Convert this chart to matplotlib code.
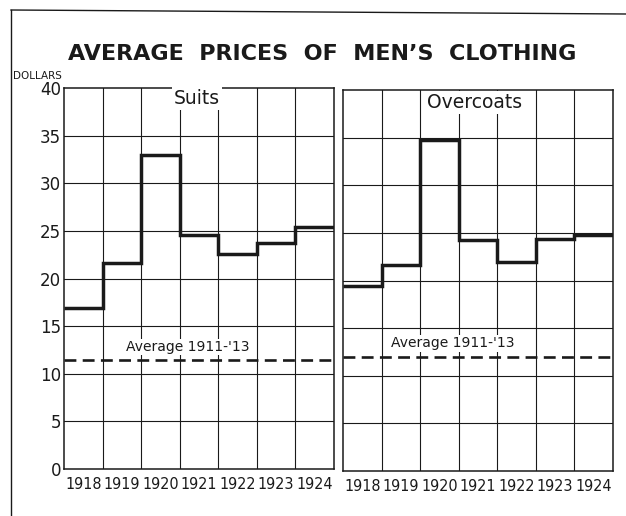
import numpy as np
import matplotlib
matplotlib.use("Agg")
import matplotlib.pyplot as plt
from matplotlib.lines import Line2D

years = ["1918", "1919", "1920", "1921", "1922", "1923", "1924"]
suits = [16.9, 21.6, 33.0, 24.6, 22.6, 23.7, 25.4]
overcoats = [19.4, 21.6, 34.8, 24.3, 21.9, 24.4, 24.8]
suits_avg = 11.4
overcoats_avg = 12.0
yticks = [0, 5, 10, 15, 20, 25, 30, 35, 40]
panel_titles = ["Suits", "Overcoats"]
avg_label = "Average 1911-'13"
title = "AVERAGE  PRICES  OF  MEN\u2019S  CLOTHING"

W, H = 626, 516
fig = plt.figure(figsize=(W / 100, H / 100), dpi=100)
fig.patch.set_facecolor("white")

ink = "#1a1a1a"

def fx(px):
    return px / W

def fy(py):
    return 1 - py / H

ax1 = fig.add_axes([fx(64), fy(469), fx(270), (469 - 88) / H])
ax2 = fig.add_axes([fx(343), fy(471), fx(270), (471 - 90) / H])

configs = [
    (ax1, suits, suits_avg, panel_titles[0], (3.45, 38.9), (3.2, 12.8), True),
    (ax2, overcoats, overcoats_avg, panel_titles[1], (3.4, 38.7), (2.85, 13.4), False),
]

for ax, vals, avg, ptitle, tpos, apos, show_y in configs:
    n = len(vals)
    ax.set_xlim(0, n)
    ax.set_ylim(0, 40)
    # grid
    for x in range(1, n):
        ax.axvline(x, color=ink, lw=0.8, zorder=1)
    for y in yticks[1:-1]:
        ax.axhline(y, color=ink, lw=0.8, zorder=1)
    for s in ax.spines.values():
        s.set_color(ink)
        s.set_linewidth(1.1)
    ax.stairs(vals, np.arange(n + 1), baseline=None, color=ink, lw=2.5, zorder=3)
    ax.axhline(avg, color=ink, lw=1.9, dashes=(4.5, 2.4), zorder=3)
    ax.text(tpos[0], tpos[1], ptitle, ha="center", va="center", fontsize=13.5,
            color=ink, zorder=4,
            bbox=dict(facecolor="white", edgecolor="none", pad=1.5))
    ax.text(apos[0], apos[1], avg_label, ha="center", va="center", fontsize=10,
            color=ink, zorder=4,
            bbox=dict(facecolor="white", edgecolor="none", pad=1.0))
    ax.set_xticks(np.arange(n) + 0.5)
    ax.set_xticklabels(years, fontsize=11.5, color=ink, family="DejaVu Sans",
                       fontstretch="condensed")
    ax.tick_params(axis="x", length=0, pad=6)
    ax.set_yticks(yticks)
    if show_y:
        ax.set_yticklabels([str(v) for v in yticks], fontsize=12, color=ink)
        ax.tick_params(axis="y", length=0, pad=2)
    else:
        ax.set_yticklabels([])
        ax.tick_params(axis="y", length=0)

fig.text(fx(322), fy(54), title, ha="center", va="center", fontsize=16,
         fontweight="bold", color=ink)
fig.text(fx(13), fy(76), "DOLLARS", ha="left", va="center", fontsize=7.5,
         color=ink)

# page frame
fig.add_artist(Line2D([fx(11), fx(11)], [fy(10), 0], color=ink, lw=1.0))
fig.add_artist(Line2D([fx(11), 1], [fy(10), fy(14)], color=ink, lw=1.0))

fig.savefig("out.png", dpi=100, facecolor="white")
